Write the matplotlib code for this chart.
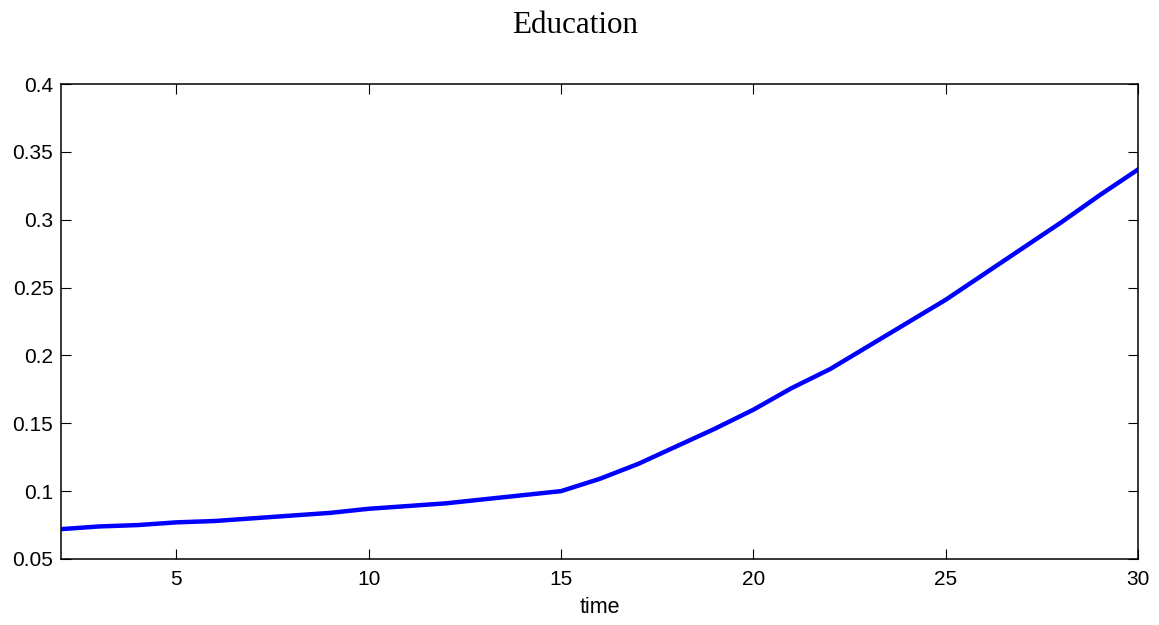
import matplotlib
matplotlib.use("Agg")
import matplotlib.pyplot as plt

# values
time = list(range(2, 31))
education = [0.072, 0.074, 0.075, 0.077, 0.078, 0.080, 0.082, 0.084, 0.087,
             0.089, 0.091, 0.094, 0.097, 0.100, 0.109, 0.120, 0.133, 0.146,
             0.160, 0.176, 0.190, 0.207, 0.224, 0.241, 0.260, 0.279, 0.298,
             0.318, 0.337]
xticks = [5, 10, 15, 20, 25, 30]
yticks = [0.05, 0.1, 0.15, 0.2, 0.25, 0.3, 0.35, 0.4]
yticklabels = ["0.05", "0.1", "0.15", "0.2", "0.25", "0.3", "0.35", "0.4"]


def main():
    fig = plt.figure(figsize=(11.59, 6.25), dpi=100)
    ax = fig.add_axes([0.0526, 0.1056, 0.9293, 0.76])
    ax.plot(time, education, color="#0000ff", linewidth=3.2)

    ax.set_xlim(2, 30)
    ax.set_ylim(0.05, 0.4)
    ax.set_xticks(xticks)
    ax.set_yticks(yticks)
    ax.set_yticklabels(yticklabels)
    ax.tick_params(direction="in", top=True, right=True, length=7.5,
                   width=0.8, labelsize=15)
    ax.tick_params(axis="x", pad=8)
    ax.tick_params(axis="y", pad=5.5)
    for lab in ax.get_xticklabels() + ax.get_yticklabels():
        lab.set_family("Liberation Sans")
    for sp in ax.spines.values():
        sp.set_linewidth(1.1)

    ax.set_xlabel("time", family="Liberation Sans", fontsize=15.5,
                  labelpad=6)
    fig.text(575 / 1159, 1 - 33 / 625, "Education", family="Liberation Serif",
             fontsize=22.4, ha="center", va="baseline")
    fig.savefig("out.png", dpi=100)


if __name__ == "__main__":
    main()
